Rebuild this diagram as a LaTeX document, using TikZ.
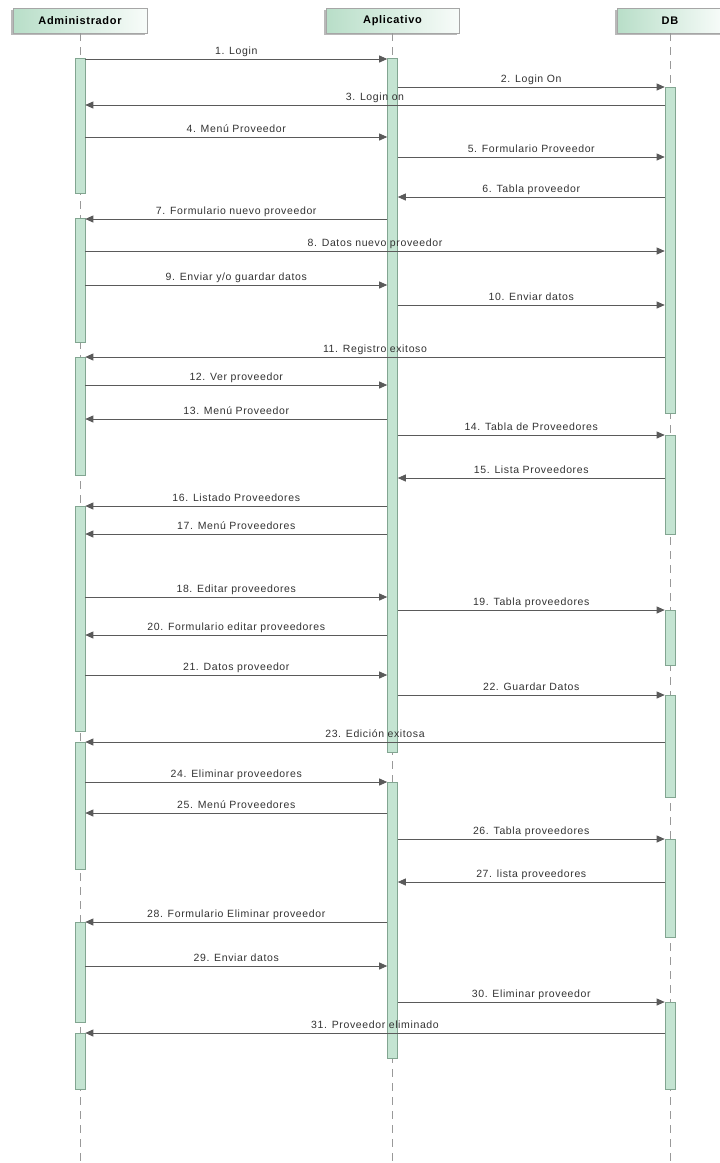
\documentclass[tikz,border=0pt]{standalone}
\usepackage{fontspec}
\setmainfont{Liberation Sans}
\newfontfamily\lblfont[LetterSpace=6]{Liberation Sans}
\usetikzlibrary{arrows.meta,shadows}

\definecolor{hdrgreen}{RGB}{184,222,200}
\definecolor{bargreen}{RGB}{196,228,210}
\definecolor{barline}{RGB}{130,165,145}
\definecolor{msggray}{RGB}{90,90,90}
\definecolor{txtgray}{RGB}{50,50,50}

\tikzset{
  head/.style={draw=gray!70, left color=hdrgreen, right color=hdrgreen!10, minimum height=25pt, inner sep=0pt,
    font=\lblfont\bfseries\fontsize{11}{13}\selectfont, drop shadow={shadow xshift=-2pt, shadow yshift=-2pt, fill=gray!55, opacity=1}},
  life/.style={draw=gray!80, dash pattern=on 8pt off 6pt, line width=0.6pt},
  bar/.style={draw=barline, fill=bargreen, minimum width=10pt, inner sep=0pt, anchor=north, line width=0.6pt},
  msg/.style={draw=msggray, line width=0.8pt, -{Triangle[length=8pt,width=7pt]}},
  lbl/.style={anchor=base, yshift=4.5pt, inner sep=0pt, font=\lblfont\fontsize{10.5}{12}\selectfont, text=txtgray}
}

\begin{document}
\begin{tikzpicture}[x=1pt,y=-1pt]

    \useasboundingbox (0,0) rectangle (720,1163); % Page
    
    \node[head, minimum width=134pt] (adm) at (80,20.5) {Administrador}; % Actor
    \node[head, minimum width=133pt] (app) at (392.5,20.5) {Aplicativo}; % Application
    \node[head, minimum width=106pt] (db) at (670,20.5) {DB}; % Database
    
    % Lifelines
    \draw[life] (adm.south) -- (adm.south |- 0,1163);
    \draw[life] (app.south) -- (app.south |- 0,1163);
    \draw[life] (db.south) -- (db.south |- 0,1163);
    
    % Activations - Administrador
    \node[bar, minimum height=135pt] (adm1) at (adm.south |- 0,58) {};
    \node[bar, minimum height=124pt] (adm2) at (adm.south |- 0,218) {};
    \node[bar, minimum height=118pt] (adm3) at (adm.south |- 0,357) {};
    \node[bar, minimum height=225pt] (adm4) at (adm.south |- 0,506) {};
    \node[bar, minimum height=127pt] (adm5) at (adm.south |- 0,742) {};
    \node[bar, minimum height=100pt] (adm6) at (adm.south |- 0,922) {};
    \node[bar, minimum height=56pt] (adm7) at (adm.south |- 0,1033) {};
    
    % Activations - Aplicativo
    \node[bar, minimum height=694pt] (app1) at (app.south |- 0,58) {};
    \node[bar, minimum height=276pt] (app2) at (app.south |- 0,782) {};
    
    % Activations - DB
    \node[bar, minimum height=326pt] (db1) at (db.south |- 0,87) {};
    \node[bar, minimum height=99pt] (db2) at (db.south |- 0,435) {};
    \node[bar, minimum height=55pt] (db3) at (db.south |- 0,610) {};
    \node[bar, minimum height=102pt] (db4) at (db.south |- 0,695) {};
    \node[bar, minimum height=98pt] (db5) at (db.south |- 0,839) {};
    \node[bar, minimum height=87pt] (db6) at (db.south |- 0,1002) {};
    
    % Messages - login
    \draw[msg] (adm1.east |- 0,59) -- node[lbl] {1. Login} (app1.west |- 0,59);
    \draw[msg] (app1.east |- 0,87) -- node[lbl] {2. Login On} (db1.west |- 0,87);
    \draw[msg] (db1.west |- 0,105) -- node[lbl] {3. Login on} (adm1.east |- 0,105);
    \draw[msg] (adm1.east |- 0,137) -- node[lbl] {4. Menú Proveedor} (app1.west |- 0,137);
    \draw[msg] (app1.east |- 0,157) -- node[lbl] {5. Formulario Proveedor} (db1.west |- 0,157);
    \draw[msg] (db1.west |- 0,197) -- node[lbl] {6. Tabla proveedor} (app1.east |- 0,197);
    
    % Messages - new supplier
    \draw[msg] (app1.west |- 0,219) -- node[lbl] {7. Formulario nuevo proveedor} (adm2.east |- 0,219);
    \draw[msg] (adm2.east |- 0,251) -- node[lbl] {8. Datos nuevo proveedor} (db1.west |- 0,251);
    \draw[msg] (adm2.east |- 0,285) -- node[lbl] {9. Enviar y/o guardar datos} (app1.west |- 0,285);
    \draw[msg] (app1.east |- 0,305) -- node[lbl] {10. Enviar datos} (db1.west |- 0,305);
    \draw[msg] (db1.west |- 0,357) -- node[lbl] {11. Registro exitoso} (adm3.east |- 0,357);
    
    % Messages - view supplier
    \draw[msg] (adm3.east |- 0,385) -- node[lbl] {12. Ver proveedor} (app1.west |- 0,385);
    \draw[msg] (app1.west |- 0,419) -- node[lbl] {13. Menú Proveedor} (adm3.east |- 0,419);
    \draw[msg] (app1.east |- 0,435) -- node[lbl] {14. Tabla de Proveedores} (db2.west |- 0,435);
    \draw[msg] (db2.west |- 0,478) -- node[lbl] {15. Lista Proveedores} (app1.east |- 0,478);
    \draw[msg] (app1.west |- 0,506) -- node[lbl] {16. Listado Proveedores} (adm4.east |- 0,506);
    \draw[msg] (app1.west |- 0,534) -- node[lbl] {17. Menú Proveedores} (adm4.east |- 0,534);
    
    % Messages - edit supplier
    \draw[msg] (adm4.east |- 0,597) -- node[lbl] {18. Editar proveedores} (app1.west |- 0,597);
    \draw[msg] (app1.east |- 0,610) -- node[lbl] {19. Tabla proveedores} (db3.west |- 0,610);
    \draw[msg] (app1.west |- 0,635) -- node[lbl] {20. Formulario editar proveedores} (adm4.east |- 0,635);
    \draw[msg] (adm4.east |- 0,675) -- node[lbl] {21. Datos proveedor} (app1.west |- 0,675);
    \draw[msg] (app1.east |- 0,695) -- node[lbl] {22. Guardar Datos} (db4.west |- 0,695);
    \draw[msg] (db4.west |- 0,742) -- node[lbl] {23. Edición exitosa} (adm5.east |- 0,742);
    
    % Messages - delete supplier
    \draw[msg] (adm5.east |- 0,782) -- node[lbl] {24. Eliminar proveedores} (app2.west |- 0,782);
    \draw[msg] (app2.west |- 0,813) -- node[lbl] {25. Menú Proveedores} (adm5.east |- 0,813);
    \draw[msg] (app2.east |- 0,839) -- node[lbl] {26. Tabla proveedores} (db5.west |- 0,839);
    \draw[msg] (db5.west |- 0,882) -- node[lbl] {27. lista proveedores} (app2.east |- 0,882);
    \draw[msg] (app2.west |- 0,922) -- node[lbl] {28. Formulario Eliminar proveedor} (adm6.east |- 0,922);
    \draw[msg] (adm6.east |- 0,966) -- node[lbl] {29. Enviar datos} (app2.west |- 0,966);
    \draw[msg] (app2.east |- 0,1002) -- node[lbl] {30. Eliminar proveedor} (db6.west |- 0,1002);
    \draw[msg] (db6.west |- 0,1033) -- node[lbl] {31. Proveedor eliminado} (adm7.east |- 0,1033);
    
\end{tikzpicture}
\end{document}
